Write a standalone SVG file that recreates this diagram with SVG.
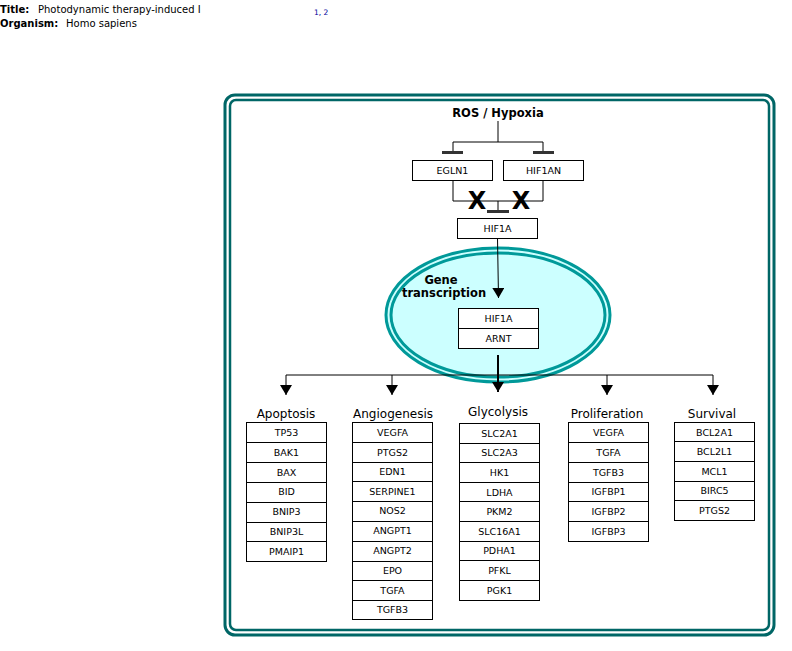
<svg xmlns="http://www.w3.org/2000/svg" width="792" height="651" viewBox="0 0 792 651">
<style>
text{font-family:"DejaVu Sans","Liberation Sans",sans-serif;fill:#000}
.hdr{font-size:10px;font-weight:bold}
.hv{font-size:10px}
.g{font-size:9.5px;text-anchor:middle}
.cat{font-size:12px;text-anchor:middle}
.lbl{font-size:11.5px;font-weight:bold;text-anchor:middle}
.box{fill:#fff;stroke:#000;stroke-width:1}
.ln{fill:none;stroke:#000;stroke-width:1}
.frame{fill:none;stroke:#006666}
.cell{fill:none;stroke:#009999;stroke-width:3}
</style>
<defs>
<marker id="arr" viewBox="0 0 10 12" refX="10" refY="6" markerWidth="10" markerHeight="12" markerUnits="userSpaceOnUse" orient="auto">
<path d="M0,0 L10,6 L0,12 z" fill="#000"/>
</marker>
</defs>
<rect width="792" height="651" fill="#fff"/>
<g id="header">
<text class="hdr" x="0" y="13">Title:</text>
<text class="hv" x="38" y="13">Photodynamic therapy-induced I</text>
<text x="314" y="15" style="font-size:7.5px;fill:#000099">1, 2</text>
<text class="hdr" x="0" y="27">Organism:</text>
<text class="hv" x="66" y="27">Homo sapiens</text>
</g>
<g id="frame">
<rect class="frame" x="225" y="95" width="549" height="540" rx="10" stroke-width="3"/>
<rect class="frame" x="230" y="100" width="539" height="530" rx="6" stroke-width="2.5"/>
</g>
<g id="nucleus">
<ellipse cx="498" cy="315" rx="112" ry="67" fill="#ccffff"/>
<ellipse class="cell" cx="498" cy="315" rx="112" ry="67"/>
<ellipse class="cell" cx="498" cy="315" rx="107" ry="62"/>
<text class="lbl" x="441" y="284">Gene</text>
<text class="lbl" x="444" y="297">transcription</text>
</g>
<g id="connectors">
<path class="ln" d="M498,121 V142 M453,142 H543 M453,142 V152 M543,142 V152"/>
<path d="M442,152.5 H463 M533,152.5 H554" stroke="#333" stroke-width="3"/>
<path class="ln" d="M453,180 V201 H543 V180 M498,201 V211"/>
<path d="M487,211.5 H509" stroke="#333" stroke-width="3"/>
<path class="ln" d="M497.5,238 L498.5,298" marker-end="url(#arr)"/>
<path d="M498,355 V392" stroke="#000" stroke-width="2" marker-end="url(#arr)"/>
<path class="ln" d="M286,375 H713"/>
<path class="ln" d="M286,375 V395" marker-end="url(#arr)"/>
<path class="ln" d="M392,375 V395" marker-end="url(#arr)"/>
<path class="ln" d="M607,375 V395" marker-end="url(#arr)"/>
<path class="ln" d="M713,375 V395" marker-end="url(#arr)"/>
</g>
<g id="marks">
<text x="477" y="209" style="font-size:24px;font-weight:bold;text-anchor:middle">X</text>
<text x="521" y="209" style="font-size:24px;font-weight:bold;text-anchor:middle">X</text>
</g>
<g id="ros"><text class="lbl" x="498" y="117">ROS / Hypoxia</text></g>
<g id="EGLN1"><rect class="box" x="412.5" y="160.5" width="80" height="20"/><text class="g" x="452.5" y="174">EGLN1</text></g>
<g id="HIF1AN"><rect class="box" x="503.5" y="160.5" width="80" height="20"/><text class="g" x="543.5" y="174">HIF1AN</text></g>
<g id="HIF1A"><rect class="box" x="457.5" y="218.5" width="80" height="20"/><text class="g" x="497.5" y="232">HIF1A</text></g>
<g id="HIF1A-ARNT">
<rect class="box" x="458.5" y="308.5" width="80" height="20"/><text class="g" x="498.5" y="322">HIF1A</text>
<rect class="box" x="458.5" y="328.5" width="80" height="20"/><text class="g" x="498.5" y="342">ARNT</text>
</g>
<g id="apoptosis">
<text class="cat" x="286" y="418">Apoptosis</text>
<rect class="box" x="246.5" y="422.5" width="80" height="20"/><text class="g" x="286.5" y="436">TP53</text>
<rect class="box" x="246.5" y="442.5" width="80" height="20"/><text class="g" x="286.5" y="456">BAK1</text>
<rect class="box" x="246.5" y="462.5" width="80" height="20"/><text class="g" x="286.5" y="476">BAX</text>
<rect class="box" x="246.5" y="482.5" width="80" height="20"/><text class="g" x="286.5" y="495">BID</text>
<rect class="box" x="246.5" y="502.5" width="80" height="20"/><text class="g" x="286.5" y="515">BNIP3</text>
<rect class="box" x="246.5" y="522.5" width="80" height="19"/><text class="g" x="286.5" y="535">BNIP3L</text>
<rect class="box" x="246.5" y="541.5" width="80" height="20"/><text class="g" x="286.5" y="555">PMAIP1</text>
</g>
<g id="angiogenesis">
<text class="cat" x="393" y="418">Angiogenesis</text>
<rect class="box" x="352.5" y="422.5" width="80" height="20"/><text class="g" x="392.5" y="436">VEGFA</text>
<rect class="box" x="352.5" y="442.5" width="80" height="20"/><text class="g" x="392.5" y="456">PTGS2</text>
<rect class="box" x="352.5" y="462.5" width="80" height="19"/><text class="g" x="392.5" y="475">EDN1</text>
<rect class="box" x="352.5" y="481.5" width="80" height="20"/><text class="g" x="392.5" y="495">SERPINE1</text>
<rect class="box" x="352.5" y="501.5" width="80" height="20"/><text class="g" x="392.5" y="514">NOS2</text>
<rect class="box" x="352.5" y="521.5" width="80" height="20"/><text class="g" x="392.5" y="534">ANGPT1</text>
<rect class="box" x="352.5" y="541.5" width="80" height="20"/><text class="g" x="392.5" y="554">ANGPT2</text>
<rect class="box" x="352.5" y="561.5" width="80" height="19"/><text class="g" x="392.5" y="574">EPO</text>
<rect class="box" x="352.5" y="580.5" width="80" height="20"/><text class="g" x="392.5" y="594">TGFA</text>
<rect class="box" x="352.5" y="600.5" width="80" height="19"/><text class="g" x="392.5" y="613">TGFB3</text>
</g>
<g id="glycolysis">
<text class="cat" x="498" y="416">Glycolysis</text>
<rect class="box" x="459.5" y="423.5" width="80" height="20"/><text class="g" x="499.5" y="437">SLC2A1</text>
<rect class="box" x="459.5" y="443.5" width="80" height="19"/><text class="g" x="499.5" y="456">SLC2A3</text>
<rect class="box" x="459.5" y="462.5" width="80" height="20"/><text class="g" x="499.5" y="476">HK1</text>
<rect class="box" x="459.5" y="482.5" width="80" height="19"/><text class="g" x="499.5" y="496">LDHA</text>
<rect class="box" x="459.5" y="501.5" width="80" height="20"/><text class="g" x="499.5" y="515">PKM2</text>
<rect class="box" x="459.5" y="521.5" width="80" height="20"/><text class="g" x="499.5" y="535">SLC16A1</text>
<rect class="box" x="459.5" y="541.5" width="80" height="19"/><text class="g" x="499.5" y="554">PDHA1</text>
<rect class="box" x="459.5" y="560.5" width="80" height="20"/><text class="g" x="499.5" y="574">PFKL</text>
<rect class="box" x="459.5" y="580.5" width="80" height="20"/><text class="g" x="499.5" y="594">PGK1</text>
</g>
<g id="proliferation">
<text class="cat" x="607" y="418">Proliferation</text>
<rect class="box" x="568.5" y="422.5" width="80" height="20"/><text class="g" x="608.5" y="436">VEGFA</text>
<rect class="box" x="568.5" y="442.5" width="80" height="20"/><text class="g" x="608.5" y="456">TGFA</text>
<rect class="box" x="568.5" y="462.5" width="80" height="20"/><text class="g" x="608.5" y="476">TGFB3</text>
<rect class="box" x="568.5" y="482.5" width="80" height="19"/><text class="g" x="608.5" y="495">IGFBP1</text>
<rect class="box" x="568.5" y="501.5" width="80" height="20"/><text class="g" x="608.5" y="515">IGFBP2</text>
<rect class="box" x="568.5" y="521.5" width="80" height="20"/><text class="g" x="608.5" y="535">IGFBP3</text>
</g>
<g id="survival">
<text class="cat" x="712" y="418">Survival</text>
<rect class="box" x="674.5" y="422.5" width="80" height="19"/><text class="g" x="714.5" y="436">BCL2A1</text>
<rect class="box" x="674.5" y="441.5" width="80" height="20"/><text class="g" x="714.5" y="455">BCL2L1</text>
<rect class="box" x="674.5" y="461.5" width="80" height="20"/><text class="g" x="714.5" y="475">MCL1</text>
<rect class="box" x="674.5" y="481.5" width="80" height="19"/><text class="g" x="714.5" y="494">BIRC5</text>
<rect class="box" x="674.5" y="500.5" width="80" height="20"/><text class="g" x="714.5" y="514">PTGS2</text>
</g>
</svg>
